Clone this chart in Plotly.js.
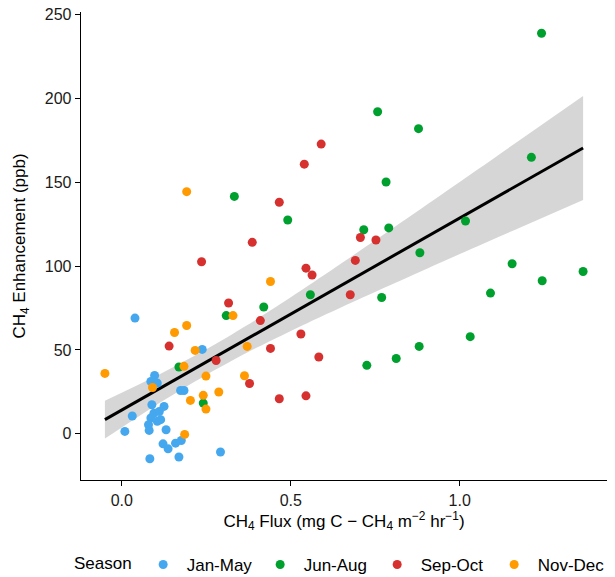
<!DOCTYPE html>
<html>
<head>
<meta charset="utf-8">
<script src="https://cdn.plot.ly/plotly-3.0.1.min.js"></script>
<style>html,body{margin:0;padding:0;background:#fff;}#chart{width:615px;height:577px;}</style>
</head>
<body>
<div id="chart"></div>
<script>
// ---- data ----
const seasons = ["Jan-May", "Jun-Aug", "Sep-Oct", "Nov-Dec"];

const janMayX = [0.039, 0.238, 0.097, 0.086, 0.105, 0.174, 0.184, 0.089, 0.125, 0.031, 0.095, 0.111, 0.086, 0.115, 0.105, 0.079, 0.081, 0.009, 0.131, 0.122, 0.137, 0.159, 0.176, 0.083, 0.169, 0.292];
const janMayY = [69, 50.3, 34.8, 31.2, 30.2, 25.8, 25.8, 17.3, 16.3, 10.6, 12.3, 13.3, 9.4, 8.4, 7.4, 5.4, 2, 1.4, 2.4, -6, -9, -5.6, -4, -14.9, -13.9, -10.9];

const junAugX = [1.242, 0.757, 0.878, 1.212, 0.782, 0.333, 0.491, 1.017, 0.790, 0.716, 0.882, 1.155, 1.365, 1.244, 1.091, 0.558, 0.769, 0.420, 0.309, 1.031, 0.880, 0.812, 0.725, 0.169, 0.241];
const junAugY = [238.9, 192.1, 182, 164.9, 150.2, 141.6, 127.5, 126.9, 122.8, 121.7, 108, 101.4, 96.8, 91.3, 83.9, 82.9, 81.3, 75.6, 70.5, 57.9, 52.1, 44.9, 40.8, 39.8, 18.3];

const sepOctX = [0.590, 0.540, 0.466, 0.386, 0.706, 0.752, 0.236, 0.691, 0.545, 0.563, 0.676, 0.316, 0.410, 0.530, 0.140, 0.440, 0.279, 0.583, 0.378, 0.466, 0.545];
const sepOctY = [172.8, 160.8, 138.1, 114.2, 117.1, 115.6, 102.6, 103.4, 98.8, 94.7, 82.9, 78, 67.5, 59.5, 52.3, 50.9, 43.7, 45.8, 30, 20.9, 22.6];

const novDecX = [0.192, 0.440, 0.329, 0.192, 0.156, 0.217, 0.371, 0.184, -0.050, 0.249, 0.363, 0.091, 0.287, 0.241, 0.203, 0.249, 0.186];
const novDecY = [144.4, 90.8, 70.5, 64.6, 60.4, 49.7, 52.1, 40.2, 36, 34.4, 34.6, 27.6, 24.9, 22.9, 19.9, 14.7, -0.4];

// fitted line and its 95% band
const fitX = [-0.05, 1.365];
const fitY = [8.4, 170.5];
const bandX = [-0.05, 0.1, 0.25, 0.4, 0.55, 0.7, 0.85, 1.0, 1.15, 1.365];
const bandUpper = [19.7, 34.3, 50.4, 68.4, 88.1, 108.5, 129.3, 150.2, 171.3, 201.5];
const bandLower = [-2.9, 16.9, 35.1, 51.4, 66.1, 80.1, 93.7, 107.2, 120.5, 139.5];

const xTickVals = [0, 0.5, 1.0];
const xTickText = ["0.0", "0.5", "1.0"];
const yTickVals = [0, 50, 100, 150, 200, 250];
const yTickText = ["0", "50", "100", "150", "200", "250"];

const seasonColors = ["#45A8EF", "#00A02E", "#D6302F", "#FF9A00"];

const seriesX = [janMayX, junAugX, sepOctX, novDecX];
const seriesY = [janMayY, junAugY, sepOctY, novDecY];
const allX = [].concat(...seriesX), allY = [].concat(...seriesY);
const xmin = Math.min(...allX), xmax = Math.max(...allX);
const ymin = Math.min(...allY), ymax = Math.max(...allY);
const xr = [xmin - 0.05 * (xmax - xmin), xmax + 0.05 * (xmax - xmin)];
const yr = [ymin - 0.05 * (ymax - ymin), ymax + 0.05 * (ymax - ymin)];

const font = "Liberation Sans, Arial, Helvetica, sans-serif";

const traces = [
  { x: bandX, y: bandLower, type: "scatter", mode: "lines",
    line: { width: 0, shape: "spline", smoothing: 0.8 }, hoverinfo: "skip", showlegend: false },
  { x: bandX, y: bandUpper, type: "scatter", mode: "lines", fill: "tonexty",
    line: { width: 0, shape: "spline", smoothing: 0.8 },
    fillcolor: "rgba(153,153,153,0.4)", hoverinfo: "skip", showlegend: false },
  { x: fitX, y: fitY, type: "scatter", mode: "lines",
    line: { color: "#000000", width: 3 }, hoverinfo: "skip", showlegend: false }
];
for (let s = 0; s < seasons.length; s++) {
  traces.push({ x: seriesX[s], y: seriesY[s], type: "scatter", mode: "markers", name: seasons[s],
    marker: { color: seasonColors[s], size: 9, line: { width: 0 } } });
}

const axisCommon = {
  showgrid: false, zeroline: false, showline: true, linecolor: "#000", linewidth: 1.3,
  ticks: "outside", ticklen: 5, tickwidth: 1.1, tickcolor: "#000",
  tickfont: { family: font, size: 16, color: "#1a1a1a" }, mirror: false
};

const layout = {
  width: 615, height: 577,
  margin: { l: 81, r: 8, t: 12, b: 97 },
  paper_bgcolor: "#fff", plot_bgcolor: "#fff",
  font: { family: font, color: "#000" },
  xaxis: Object.assign({}, axisCommon, {
    range: xr, tickvals: xTickVals, ticktext: xTickText,
    title: { text: "CH<sub>4</sub> Flux (mg C − CH<sub>4</sub> m<sup>−2</sup> hr<sup>−1</sup>)",
      font: { family: font, size: 17, color: "#000" }, standoff: 7 }
  }),
  yaxis: Object.assign({}, axisCommon, {
    range: yr, tickvals: yTickVals, ticktext: yTickText,
    title: { text: "CH<sub>4</sub> Enhancement (ppb)", font: { family: font, size: 17, color: "#000" }, standoff: 14 }
  }),
  showlegend: true,
  legend: {
    orientation: "h", xref: "container", yref: "container", traceorder: "normal",
    x: 72 / 615, xanchor: "left", y: 1 - 565 / 577, yanchor: "middle",
    title: { text: "Season", side: "left", font: { family: font, size: 17, color: "#000" } },
    font: { family: font, size: 17, color: "#000" },
    entrywidth: 65, entrywidthmode: "pixels", itemwidth: 37, bgcolor: "rgba(0,0,0,0)"
  }
};

Plotly.newPlot("chart", traces, layout, { displayModeBar: false, staticPlot: true });
</script>
</body>
</html>
